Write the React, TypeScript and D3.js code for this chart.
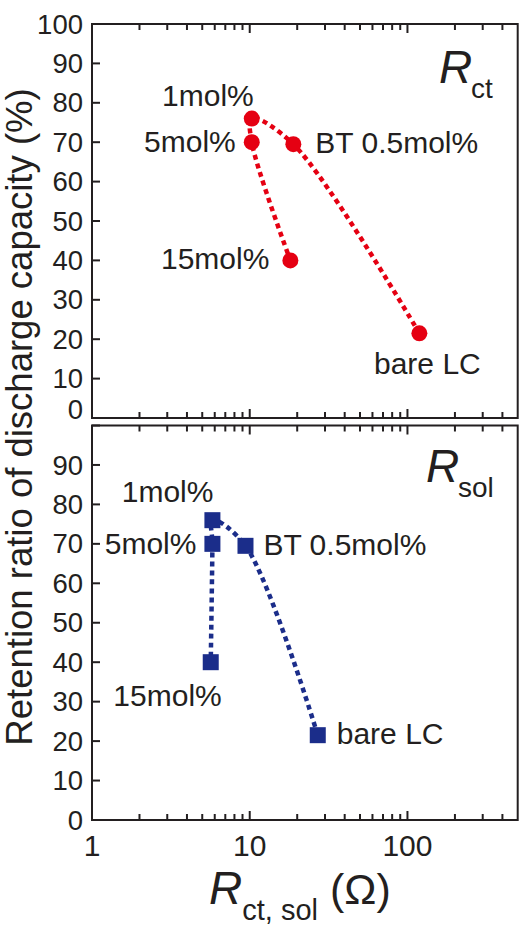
import React, { useEffect, useRef } from 'react';
import * as d3 from 'd3';

// samples, in the order the dotted guide line joins them
const samples = ['bare LC', 'BT 0.5mol%', '1mol%', '5mol%', '15mol%'];
const retention = [21.5, 69.5, 76, 70, 40];
const rct = [119, 18.9, 10.3, 10.3, 18.1];
const rsol = [27, 9.4, 5.8, 5.8, 5.66];

const yTicks = [0, 10, 20, 30, 40, 50, 60, 70, 80, 90, 100];
const xMajor = [1, 10, 100];
const xMinor = [2, 3, 4, 5, 6, 7, 8, 9, 20, 30, 40, 50, 60, 70, 80, 90, 200, 300, 400];

const INK = '#231f20';
const FONT = '"Liberation Sans", Arial, Helvetica, sans-serif';

// label placement per sample: [anchor, dx, dy]
const topLabels: [string, number, number][] = [
  ['middle', 8, 41],
  ['start', 22, 9],
  ['end', 2, -13],
  ['end', -16, 10],
  ['end', -21, 9],
];
const bottomLabels: [string, number, number][] = [
  ['start', 19, 9],
  ['start', 18, 9],
  ['end', 1, -18],
  ['end', -16, 10],
  ['end', 11, 44],
];

export default function App() {
  const ref = useRef<SVGSVGElement>(null);

  useEffect(() => {
    const svg = d3.select(ref.current);
    svg.selectAll('*').remove();

    const left = 92;
    const right = 517.7;
    const x = d3.scaleLog().domain([1, 500]).range([left, right]);

    const panels = [
      { top: 24, bottom: 418, xs: rct, color: '#e50012', marker: 'circle', labels: topLabels, showTop: true, zeroUp: 9, sub: 'ct', tag: [439, 83, 471, 98] },
      { top: 425.5, bottom: 820, xs: rsol, color: '#1b2d8a', marker: 'square', labels: bottomLabels, showTop: false, zeroUp: 0, sub: 'sol', tag: [426, 482, 458, 497] },
    ];

    panels.forEach((p) => {
      const y = d3.scaleLinear().domain([0, 100]).range([p.bottom, p.top]);
      const g = svg.append('g');

      // frame
      g.append('rect')
        .attr('x', left)
        .attr('y', p.top)
        .attr('width', right - left)
        .attr('height', p.bottom - p.top)
        .attr('fill', 'none')
        .attr('stroke', INK)
        .attr('stroke-width', 2);

      // x ticks, inward on top and bottom edges
      const xt = [
        ...xMajor.map((v) => ({ v, len: 9 })),
        ...xMinor.map((v) => ({ v, len: 6 })),
      ];
      [
        [p.top, 1],
        [p.bottom, -1],
      ].forEach(([edge, dir]) => {
        g.selectAll(null)
          .data(xt)
          .enter()
          .append('line')
          .attr('x1', (d) => x(d.v))
          .attr('x2', (d) => x(d.v))
          .attr('y1', edge)
          .attr('y2', (d) => edge + dir * d.len)
          .attr('stroke', INK)
          .attr('stroke-width', 2);
      });

      // y ticks, inward on the left edge
      g.selectAll(null)
        .data(yTicks)
        .enter()
        .append('line')
        .attr('x1', left)
        .attr('x2', left + 8)
        .attr('y1', (d) => y(d))
        .attr('y2', (d) => y(d))
        .attr('stroke', INK)
        .attr('stroke-width', 2);

      g.selectAll(null)
        .data(yTicks.filter((d) => p.showTop || d < 100))
        .enter()
        .append('text')
        .attr('x', left - 9)
        .attr('y', (d) => y(d) - (d === 0 ? p.zeroUp : 0))
        .attr('dy', '0.35em')
        .attr('text-anchor', 'end')
        .attr('font-family', FONT)
        .attr('font-size', 27.5)
        .attr('fill', INK)
        .text((d) => d);

      // dotted guide line through the samples
      const pts: [number, number][] = samples.map((_, i) => [x(p.xs[i]), y(retention[i])]);
      g.append('path')
        .attr('d', d3.line().curve(d3.curveCatmullRom.alpha(0.5))(pts))
        .attr('fill', 'none')
        .attr('stroke', p.color)
        .attr('stroke-width', 4.5)
        .attr('stroke-dasharray', '5,4');

      if (p.marker === 'circle') {
        g.selectAll(null)
          .data(pts)
          .enter()
          .append('circle')
          .attr('cx', (d) => d[0])
          .attr('cy', (d) => d[1])
          .attr('r', 8)
          .attr('fill', p.color);
      } else {
        g.selectAll(null)
          .data(pts)
          .enter()
          .append('rect')
          .attr('x', (d) => d[0] - 8)
          .attr('y', (d) => d[1] - 8)
          .attr('width', 16)
          .attr('height', 16)
          .attr('fill', p.color);
      }

      // sample labels
      g.selectAll(null)
        .data(samples)
        .enter()
        .append('text')
        .attr('x', (_, i) => pts[i][0] + p.labels[i][1])
        .attr('y', (_, i) => pts[i][1] + p.labels[i][2])
        .attr('text-anchor', (_, i) => p.labels[i][0])
        .attr('font-family', FONT)
        .attr('font-size', 30)
        .attr('fill', INK)
        .text((d) => d);

      // panel tag: R_ct / R_sol
      const [rx, ry, sx, sy] = p.tag;
      g.append('text')
        .attr('x', rx)
        .attr('y', ry)
        .attr('font-family', FONT)
        .attr('font-style', 'italic')
        .attr('font-size', 46)
        .attr('fill', INK)
        .text('R');
      g.append('text')
        .attr('x', sx)
        .attr('y', sy)
        .attr('font-family', FONT)
        .attr('font-size', 28)
        .attr('fill', INK)
        .text(p.sub);
    });

    // x tick labels below the lower panel
    svg.selectAll(null)
      .data(xMajor)
      .enter()
      .append('text')
      .attr('x', (d) => x(d))
      .attr('y', 856)
      .attr('text-anchor', 'middle')
      .attr('font-family', FONT)
      .attr('font-size', 30)
      .attr('fill', INK)
      .text((d) => d);

    // x axis title
    const xt = svg.append('text')
      .attr('x', 209)
      .attr('y', 904)
      .attr('font-family', FONT)
      .attr('fill', INK);
    xt.append('tspan').attr('font-style', 'italic').attr('font-size', 46).text('R');
    xt.append('tspan').attr('font-size', 29).attr('dy', 16).attr('dx', 0).text('ct, sol');
    xt.append('tspan').attr('font-size', 43).attr('dy', -16).text(' (Ω)');

    // y axis title
    svg.append('text')
      .attr('transform', 'translate(32,417) rotate(-90)')
      .attr('text-anchor', 'middle')
      .attr('font-family', FONT)
      .attr('font-size', 36.5)
      .attr('fill', INK)
      .text('Retention ratio of discharge capacity (%)');
  }, []);

  return (
    <svg
      ref={ref}
      width={524}
      height={932}
      style={{ position: 'absolute', left: 0, top: 0, background: '#fff' }}
    />
  );
}
